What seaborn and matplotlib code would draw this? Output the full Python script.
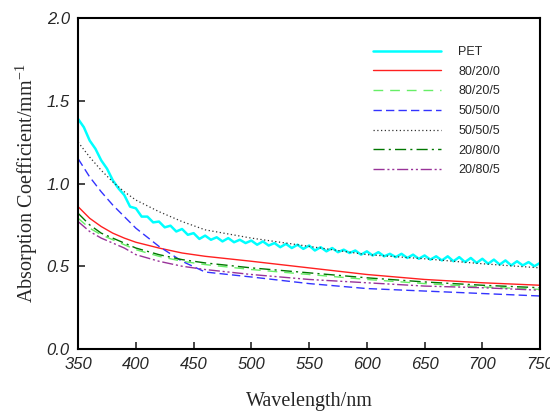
import numpy as np
import matplotlib
matplotlib.use("Agg")
import matplotlib.pyplot as plt
import seaborn as sns

# wavelengths for the smooth curves
wl = [350, 360, 370, 380, 390, 400, 420, 440, 460, 500, 550, 600, 650, 700, 750]

s_80_20_0 = [0.86, 0.79, 0.74, 0.70, 0.67, 0.645, 0.61, 0.58, 0.56, 0.53, 0.49, 0.45, 0.42, 0.40, 0.385]
s_80_20_5 = [0.79, 0.73, 0.69, 0.66, 0.63, 0.60, 0.56, 0.53, 0.51, 0.48, 0.45, 0.42, 0.395, 0.375, 0.36]
s_50_50_0 = [1.15, 1.04, 0.95, 0.87, 0.80, 0.73, 0.62, 0.53, 0.465, 0.435, 0.395, 0.365, 0.35, 0.335, 0.32]
s_50_50_5 = [1.25, 1.16, 1.08, 1.01, 0.95, 0.90, 0.83, 0.77, 0.72, 0.67, 0.62, 0.57, 0.545, 0.515, 0.49]
s_20_80_0 = [0.82, 0.75, 0.70, 0.67, 0.64, 0.61, 0.57, 0.54, 0.52, 0.49, 0.46, 0.43, 0.405, 0.385, 0.37]
s_20_80_5 = [0.77, 0.71, 0.67, 0.64, 0.61, 0.57, 0.53, 0.50, 0.48, 0.45, 0.42, 0.40, 0.38, 0.37, 0.355]

# PET is noisy, read every 5 nm
wl_pet = list(range(350, 755, 5))
pet = [1.39, 1.34, 1.26, 1.21, 1.14, 1.09, 1.02, 0.97, 0.93, 0.86, 0.85, 0.80, 0.80, 0.765, 0.77,
       0.735, 0.745, 0.71, 0.725, 0.69, 0.70, 0.665, 0.685, 0.66, 0.675, 0.65, 0.67, 0.645, 0.66, 0.64,
       0.655, 0.63, 0.65, 0.625, 0.64, 0.615, 0.635, 0.61, 0.63, 0.605, 0.625, 0.595, 0.615, 0.59, 0.61,
       0.585, 0.60, 0.58, 0.595, 0.57, 0.59, 0.565, 0.585, 0.56, 0.575, 0.555, 0.575, 0.55, 0.57, 0.545,
       0.565, 0.54, 0.56, 0.535, 0.56, 0.53, 0.555, 0.525, 0.55, 0.52, 0.545, 0.515, 0.54, 0.51, 0.535,
       0.505, 0.53, 0.505, 0.525, 0.50, 0.52]

labels = ["PET", "80/20/0", "80/20/5", "50/50/0", "50/50/5", "20/80/0", "20/80/5"]

sns.set_style("white")
plt.rcParams['font.family'] = ['Liberation Sans', 'DejaVu Sans']
plt.rcParams['mathtext.default'] = 'regular'

fig = plt.figure(figsize=(5.5, 4.11), dpi=100)
ax = fig.add_axes([0.142, 0.151, 0.840, 0.805])

sns.lineplot(x=wl_pet, y=pet, ax=ax, color="#00ffff", lw=1.8, label=labels[0])
sns.lineplot(x=wl, y=s_80_20_0, ax=ax, color="#ff2020", lw=1.0, label=labels[1])
sns.lineplot(x=wl, y=s_80_20_5, ax=ax, color="#66ee66", lw=1.0, linestyle=(0, (7, 5)), label=labels[2])
sns.lineplot(x=wl, y=s_50_50_0, ax=ax, color="#3333ff", lw=1.0, linestyle=(0, (6, 3)), label=labels[3])
sns.lineplot(x=wl, y=s_50_50_5, ax=ax, color="#333333", lw=0.9, linestyle=(0, (1, 2)), label=labels[4])
sns.lineplot(x=wl, y=s_20_80_0, ax=ax, color="#007700", lw=1.0, linestyle=(0, (8, 3, 1.5, 3)), label=labels[5])
sns.lineplot(x=wl, y=s_20_80_5, ax=ax, color="#993399", lw=1.0, linestyle=(0, (8, 2, 1.5, 2, 1.5, 2)), label=labels[6])

ax.set_xlim(350, 750)
ax.set_ylim(0, 2.0)
ax.set_xticks(range(350, 800, 50))
ax.set_yticks([0.0, 0.5, 1.0, 1.5, 2.0])
ax.set_yticklabels(["0.0", "0.5", "1.0", "1.5", "2.0"])
ax.tick_params(direction="in", length=5, width=1.2, labelsize=12, pad=6,
               bottom=True, left=True, top=False, right=False)
for lab in ax.get_xticklabels() + ax.get_yticklabels():
    lab.set_fontstyle("italic")
for sp in ax.spines.values():
    sp.set_color("black")
    sp.set_linewidth(1.5)

ax.set_xlabel("Wavelength/nm", family="Liberation Serif", fontsize=14.5, labelpad=14)
ax.set_ylabel("Absorption Coefficient/mm$^{-1}$", family="Liberation Serif", fontsize=14.5, labelpad=5)

leg = ax.legend(loc="upper right", bbox_to_anchor=(0.938, 0.95), frameon=False, fontsize=9,
                handlelength=5.4, handletextpad=1.4, labelspacing=0.62)

fig.savefig("out.png", dpi=100)
